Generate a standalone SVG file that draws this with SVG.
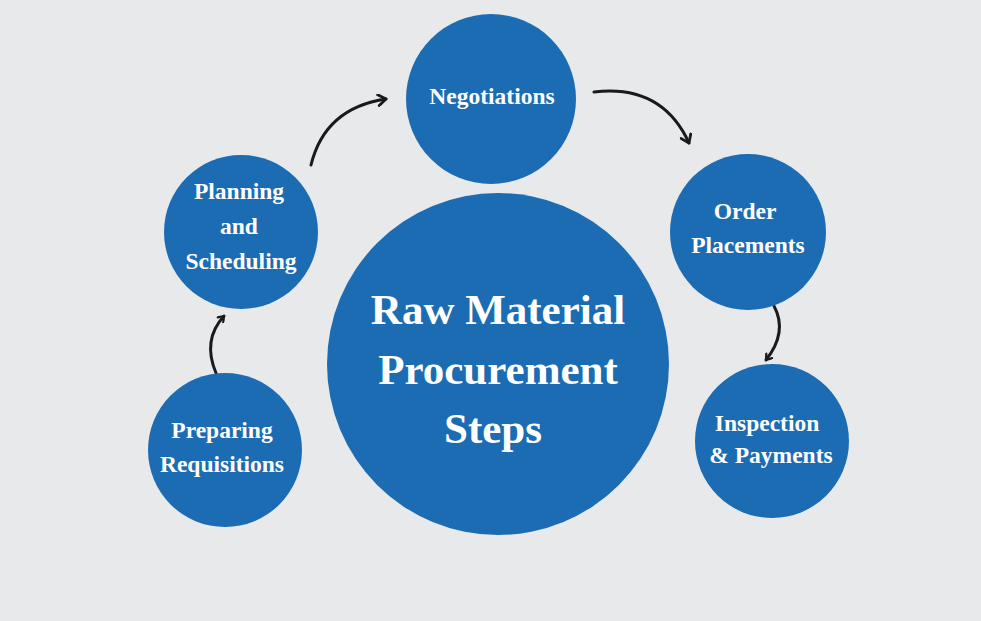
<svg xmlns="http://www.w3.org/2000/svg" width="981" height="621" viewBox="0 0 981 621">
<defs>
<style>
.node{fill:#1c6cb3}
.t{fill:#ffffff;font-family:"Liberation Serif","Times New Roman",serif;font-weight:bold;text-anchor:middle}
.s{font-size:23.5px}
.b{font-size:43px}
.c{fill:none;stroke:#1a1a1a;stroke-width:3;stroke-linecap:round}
</style>
<marker id="ah" viewBox="0 0 12 12" refX="9" refY="6" markerWidth="13" markerHeight="13" markerUnits="userSpaceOnUse" orient="auto">
<path d="M2,1 L9,6 L2,11" fill="none" stroke="#1a1a1a" stroke-width="2.6" stroke-linecap="round" stroke-linejoin="round"/>
</marker>
<marker id="ahs" viewBox="0 0 12 12" refX="9" refY="6" markerWidth="9" markerHeight="9" markerUnits="userSpaceOnUse" orient="auto">
<path d="M2,1 L9,6 L2,11" fill="none" stroke="#1a1a1a" stroke-width="3" stroke-linecap="round" stroke-linejoin="round"/>
</marker>
</defs>
<rect width="981" height="621" fill="#e8e9eb"/>
<g id="connectors">
<path class="c" d="M311,165 Q325,108 386,99" marker-end="url(#ah)"/>
<path class="c" d="M594,92 Q662,84 689,143" marker-end="url(#ah)"/>
<path class="c" stroke-width="2" d="M774,306 Q788,332 766,360" marker-end="url(#ahs)"/>
<path class="c" stroke-width="2" d="M216,373 Q202,340 224,316" marker-end="url(#ahs)"/>
</g>
<g id="center">
<circle class="node" cx="498" cy="364" r="171"/>
<text class="t b" x="498" y="324">Raw Material</text>
<text class="t b" x="498" y="384">Procurement</text>
<text class="t b" x="493" y="443">Steps</text>
</g>
<g id="negotiations">
<circle class="node" cx="491" cy="99" r="85"/>
<text class="t s" x="492" y="104">Negotiations</text>
</g>
<g id="planning">
<circle class="node" cx="241" cy="232" r="77"/>
<text class="t s" x="239" y="199">Planning</text>
<text class="t s" x="239" y="234">and</text>
<text class="t s" x="241" y="269">Scheduling</text>
</g>
<g id="order">
<circle class="node" cx="748" cy="232" r="78"/>
<text class="t s" x="745" y="219">Order</text>
<text class="t s" x="748" y="253">Placements</text>
</g>
<g id="preparing">
<circle class="node" cx="225" cy="450" r="77"/>
<text class="t s" x="222" y="438">Preparing</text>
<text class="t s" x="222" y="472">Requisitions</text>
</g>
<g id="inspection">
<circle class="node" cx="772" cy="441" r="77"/>
<text class="t s" x="767" y="431">Inspection</text>
<text class="t s" x="771" y="463">&amp; Payments</text>
</g>
</svg>
